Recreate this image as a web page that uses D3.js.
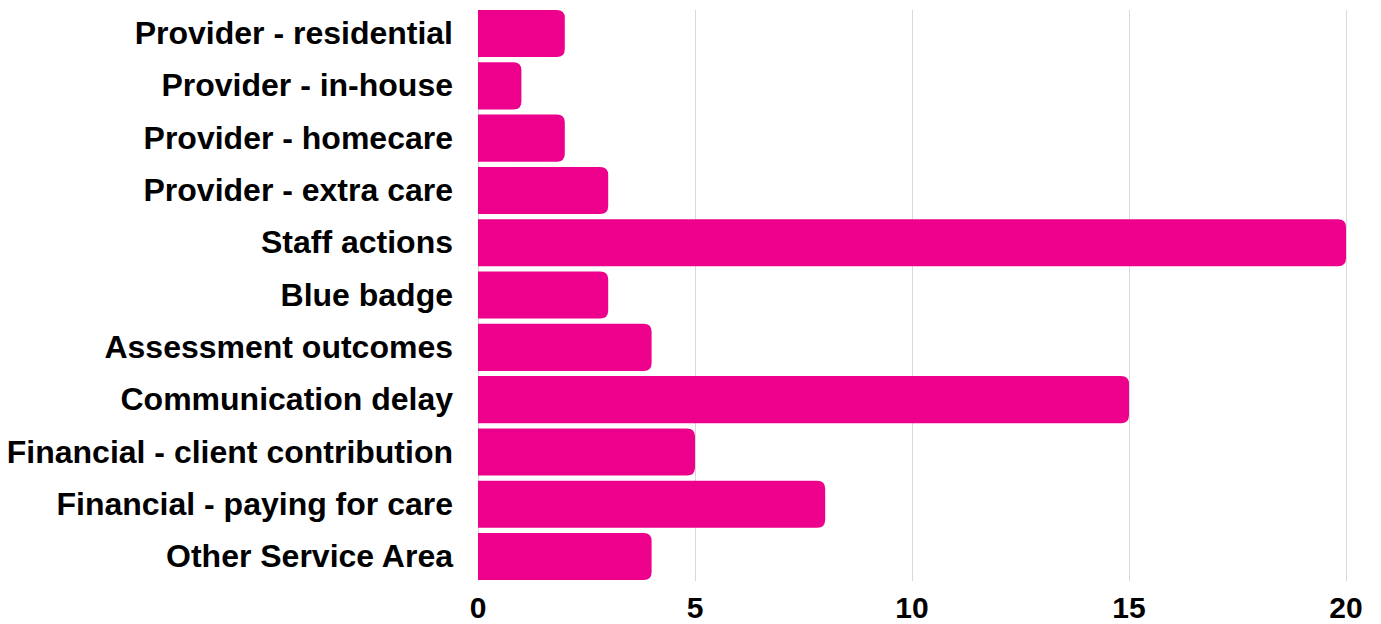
<!DOCTYPE html>
<html>
<head>
<meta charset="utf-8">
<script src="https://cdn.jsdelivr.net/npm/d3@7"></script>
<style>
  body { margin: 0; background: #fff; }
  svg { display: block; }
  .lbl { font-family: "Liberation Sans", Arial, sans-serif; font-weight: bold; fill: #000; }
</style>
</head>
<body>
<div id="chart"></div>
<script>
const categories = [
    "Provider - residential",
    "Provider - in-house",
    "Provider - homecare",
    "Provider - extra care",
    "Staff actions",
    "Blue badge",
    "Assessment outcomes",
    "Communication delay",
    "Financial - client contribution",
    "Financial - paying for care",
    "Other Service Area"
];
const values = [2, 1, 2, 3, 20, 3, 4, 15, 5, 8, 4];
const xTicks = [0, 5, 10, 15, 20];

const width = 1381, height = 624;
const left = 478, right = 1346;
const barColor = "#ec008c";

let svg = d3.select("#chart")
    .append("svg")
    .attr("width", width)
    .attr("height", height);

let x = d3.scaleLinear().domain([0, 20]).range([left, right]);
let y = d3.scaleBand().domain(categories)
    .range([7.4, 582.7])
    .paddingInner(0.1)
    .paddingOuter(0.05);

// gridlines
svg.append("g").attr("class", "grids")
    .selectAll("line")
    .data(xTicks)
    .enter()
    .append("line")
    .attr("x1", d => x(d) + 0.5)
    .attr("x2", d => x(d) + 0.5)
    .attr("y1", 10)
    .attr("y2", 581)
    .attr("stroke", "#d9d9d9")
    .attr("stroke-width", 1);

// bar with rounded right end only
function barPath(x0, y0, w, h, r) {
    r = Math.min(r, w, h / 2);
    return `M${x0},${y0}H${x0 + w - r}Q${x0 + w},${y0} ${x0 + w},${y0 + r}` +
        `V${y0 + h - r}Q${x0 + w},${y0 + h} ${x0 + w - r},${y0 + h}H${x0}Z`;
}

svg.append("g").attr("class", "bars")
    .selectAll("path")
    .data(values)
    .enter()
    .append("path")
    .attr("d", (d, i) => barPath(x(0), y(categories[i]), x(d) - x(0), y.bandwidth(), 8))
    .attr("fill", barColor);

// category labels
svg.append("g")
    .selectAll("text")
    .data(categories)
    .enter()
    .append("text")
    .attr("class", "lbl")
    .attr("x", left - 25)
    .attr("y", d => y(d) + y.bandwidth() / 2)
    .attr("dy", "0.33em")
    .attr("text-anchor", "end")
    .style("font-size", "32px")
    .text(d => d);

// x tick labels
svg.append("g")
    .selectAll("text")
    .data(xTicks)
    .enter()
    .append("text")
    .attr("class", "lbl")
    .attr("x", d => x(d))
    .attr("y", 618)
    .attr("text-anchor", "middle")
    .style("font-size", "30px")
    .text(d => d);
</script>
</body>
</html>
